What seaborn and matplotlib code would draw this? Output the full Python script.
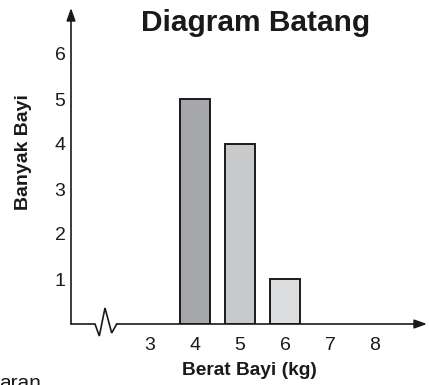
import matplotlib
matplotlib.use("Agg")
import matplotlib.pyplot as plt
import seaborn as sns

# Data
weights = [4, 5, 6]          # Berat Bayi (kg)
counts = [5, 4, 1]           # Banyak Bayi
bar_colors = ["#a6a7aa", "#c8c9cb", "#dcdddf"]
x_ticks = [3, 4, 5, 6, 7, 8]
y_ticks = [1, 2, 3, 4, 5, 6]

sns.set_style("white")
plt.rcParams["font.family"] = ["Liberation Sans", "DejaVu Sans"]

W, H, DPI = 429, 385, 100
fig = plt.figure(figsize=(W / DPI, H / DPI), dpi=DPI)
L, R, T, B = 71, 427, 8, 324
ax = fig.add_axes([L / W, (H - B) / H, (R - L) / W, (B - T) / H])

palette = {w: c for w, c in zip(weights, bar_colors)}
sns.barplot(x=weights, y=counts, hue=weights, palette=palette, native_scale=True,
            legend=False, width=0.65, edgecolor="#1a1a1a", linewidth=1.4,
            saturation=1, ax=ax)

ax.set_xlim(3 - (150 - L) / 45, 3 + (R - 150) / 45)
ax.set_ylim(0, (B - T) / 45)
ax.set_xticks(x_ticks)
ax.set_xticklabels([str(v) for v in x_ticks])
ax.set_yticks(y_ticks)
ax.set_yticklabels([str(v) for v in y_ticks])
ax.tick_params(axis="both", direction="in", length=2.5, width=1, colors="#1a1a1a",
               labelsize=14, labelcolor="#1a1a1a")
ax.tick_params(axis="x", pad=9)
ax.tick_params(axis="y", pad=4)
for s in ax.spines.values():
    s.set_visible(False)

# Axes lines with arrows and the axis break
lc = "#1a1a1a"
def fx(px):
    return (px - L) / (R - L)
def fy(py):
    return (B - py) / (B - T)
zx = [71, 95, 99.3, 105, 111.7, 116.7]
zy = [324, 324, 336, 308, 333, 324]
ax.plot([fx(v) for v in zx], [fy(v) for v in zy], transform=ax.transAxes,
        color=lc, lw=1.2, clip_on=False, solid_joinstyle="miter")
arrow = dict(arrowstyle="-|>,head_length=0.75,head_width=0.27", color=lc, lw=1.2,
             shrinkA=0, shrinkB=0, mutation_scale=10)
ax.annotate("", xy=(1.0, 0), xytext=(fx(116.7), 0), xycoords="axes fraction",
            textcoords="axes fraction", arrowprops=arrow, annotation_clip=False)
ax.annotate("", xy=(0, 1.0), xytext=(0, 0), xycoords="axes fraction",
            textcoords="axes fraction", arrowprops=arrow, annotation_clip=False)

ax.set_xlabel("Berat Bayi (kg)", fontsize=13.8, fontweight="bold", color="#1a1a1a",
              labelpad=6)
ax.set_ylabel("Banyak Bayi", fontsize=14, fontweight="bold", color="#1a1a1a",
              va="center")
ax.yaxis.set_label_coords(fx(24), fy(152))

fig.text(256 / W, 1 - 31 / H, "Diagram Batang", fontsize=21.5, fontweight="bold",
         ha="center", va="baseline", color="#1a1a1a")
fig.text(-0.003, 1 - 374 / H, "aran", fontsize=15, ha="left", va="top", color="#1a1a1a")

fig.savefig("out.png", dpi=DPI)
